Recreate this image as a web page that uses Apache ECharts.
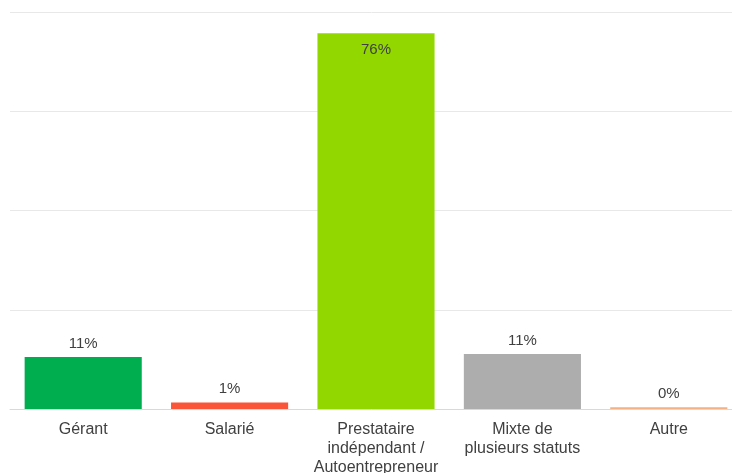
<!DOCTYPE html>
<html>
<head>
<meta charset="utf-8">
<script src="https://cdn.jsdelivr.net/npm/echarts@6/dist/echarts.min.js"></script>
<style>
html,body{margin:0;padding:0;background:#fff;}
#chart{width:732px;height:473px;}
</style>
</head>
<body>
<div id="chart"></div>
<script>
const categories = ["Gérant", "Salarié", "Prestataire\nindépendant /\nAutoentrepreneur", "Mixte de\nplusieurs statuts", "Autre"];
const values = [10.5, 1.3, 75.7, 11.1, 0.35];
const barColors = ["#00AD4F", "#FA5538", "#92D800", "#ADADAD", "#F4B183"];
const yTicks = [0, 20, 40, 60, 80];

const chart = echarts.init(document.getElementById('chart'));
chart.setOption({
  animation: false,
  grid: { left: 10, width: 732, top: 12, bottom: 64, containLabel: false, outerBoundsMode: 'none' },
  xAxis: {
    type: 'category',
    data: categories,
    axisTick: { show: false },
    axisLine: { show: true, lineStyle: { color: '#D9D9D9', width: 1 } },
    axisLabel: {
      color: '#404040', fontSize: 16, fontFamily: 'Liberation Sans, Arial, sans-serif',
      margin: 11, lineHeight: 19, interval: 0
    }
  },
  yAxis: {
    type: 'value',
    min: yTicks[0], max: yTicks[yTicks.length - 1], interval: 20,
    axisLabel: { show: false },
    axisLine: { show: false },
    axisTick: { show: false },
    splitLine: { lineStyle: { color: '#E8E8E8', width: 1 } }
  },
  series: [{
    type: 'bar',
    barCategoryGap: '20%',
    data: values.map((v, i) => ({
      value: v,
      itemStyle: { color: barColors[i] },
      label: i === 2 ? { position: 'insideTop', distance: 9 } : {}
    })),
    label: {
      show: true,
      position: 'top',
      distance: 6,
      color: '#404040',
      fontSize: 15,
      fontFamily: 'Liberation Sans, Arial, sans-serif',
      formatter: p => Math.round(p.value) + '%'
    }
  }]
});
</script>
</body>
</html>
